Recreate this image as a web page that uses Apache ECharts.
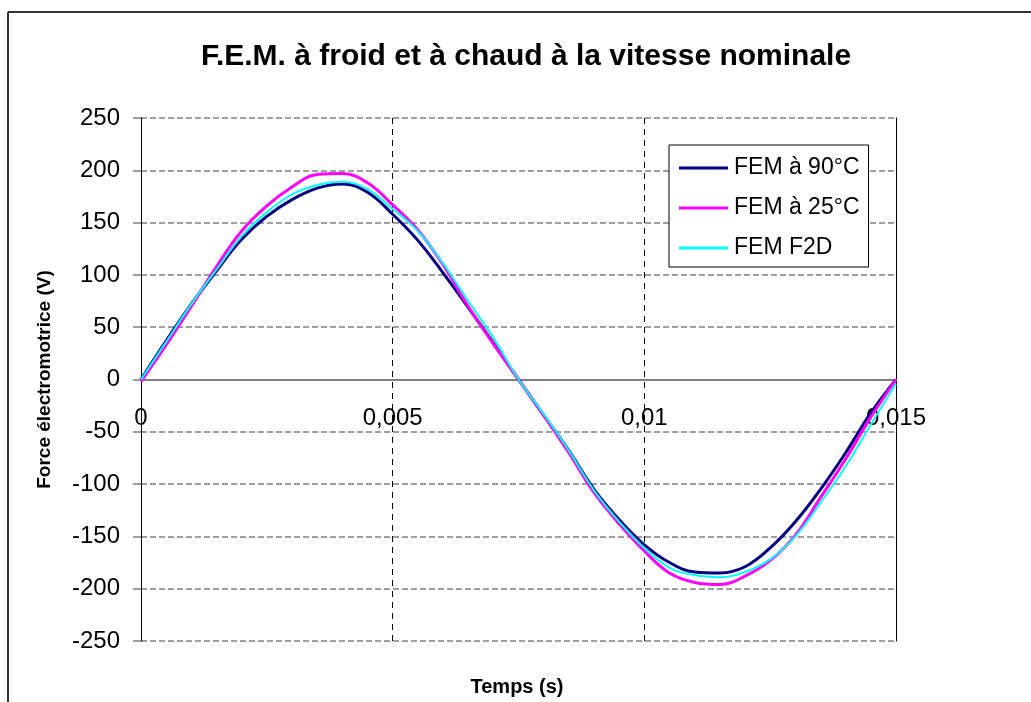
<!DOCTYPE html>
<html>
<head>
<meta charset="utf-8">
<script src="https://cdn.jsdelivr.net/npm/echarts@6/dist/echarts.min.js"></script>
<style>
  html, body { margin: 0; padding: 0; background: #fff; }
  #chart { width: 1031px; height: 702px; }
</style>
</head>
<body>
<div id="chart"></div>
<script>
// Time samples (s), one every 0.5 ms over one electrical period
const times = [0, 0.0005, 0.001, 0.0015, 0.002, 0.0025, 0.003, 0.0035, 0.004, 0.0045,
  0.005, 0.0055, 0.006, 0.0065, 0.007, 0.0075, 0.008, 0.0085, 0.009, 0.0095,
  0.01, 0.0105, 0.011, 0.0115, 0.012, 0.0125, 0.013, 0.0135, 0.014, 0.0145, 0.015];

// Measured EMF, hot machine (V)
const fem90 = [0, 37, 72, 104, 134, 156, 172, 183, 187, 179,
  158, 133, 102, 69, 35, 0, -34, -68, -105, -134,
  -158, -175, -184, -185, -179, -161, -136, -105, -70, -32, 0];

// Measured EMF, cold machine (V)
const fem25 = [-2, 33, 70, 108, 142, 166, 184, 196, 197, 188,
  167, 143, 110, 70, 34, 0, -34, -70, -108, -138,
  -164, -185, -194, -196, -188, -173, -149, -113, -76, -36, 0];

// EMF computed with Flux2D (V)
const femF2D = [0, 36, 72, 105, 137, 160, 177, 186, 189, 182,
  163, 142, 111, 75, 40, 0, -33, -68, -106, -136,
  -161, -180, -187, -189, -184, -172, -150, -118, -83, -43, -4];

const seriesNames = ['FEM à 90°C', 'FEM à 25°C', 'FEM F2D'];
const xTickLabels = ['0', '0,005', '0,01', '0,015'];
const chartTitle = 'F.E.M. à froid et à chaud à la vitesse nominale';
const yTitle = 'Force électromotrice (V)';
const xTitle = 'Temps (s)';

const pairs = vals => times.map((t, i) => [t, vals[i]]);
const font = '"Liberation Sans", Arial, sans-serif';

// Plot box and the value-axis range, used to put the time axis on V = 0
const gridTop = 118, gridBottom = 61, chartH = 702;
const yMin = -250, yMax = 250;
const plotH = chartH - gridTop - gridBottom;
const zeroOffset = -plotH * (0 - yMin) / (yMax - yMin);

const chart = echarts.init(document.getElementById('chart'), null, { renderer: 'canvas' });

chart.setOption({
  animation: false,
  backgroundColor: '#ffffff',
  textStyle: { fontFamily: font },
  grid: { left: 141, right: 135, top: gridTop, bottom: gridBottom, containLabel: false },
  legend: {
    orient: 'vertical',
    left: 669,
    top: 145,
    backgroundColor: '#ffffff',
    borderColor: '#000000',
    borderWidth: 1,
    borderRadius: 0,
    padding: [11, 9, 7, 10],
    itemWidth: 49,
    itemHeight: 3,
    itemGap: 16,
    icon: 'rect',
    textStyle: { fontFamily: font, fontSize: 23, color: '#000', lineHeight: 24, padding: [0, 0, 0, 1] },
    data: seriesNames
  },
  xAxis: {
    type: 'value',
    min: 0,
    max: 0.015,
    interval: 0.005,
    position: 'bottom',
    offset: zeroOffset,
    axisLine: { onZero: false, lineStyle: { color: '#808080', width: 2 } },
    axisTick: { show: false },
    axisLabel: {
      color: '#000',
      fontSize: 24,
      fontFamily: font,
      margin: 27,
      showMinLabel: true,
      showMaxLabel: true,
      formatter: (v, i) => xTickLabels[i]
    },
    splitLine: {
      show: true,
      showMinLine: false,
      showMaxLine: false,
      lineStyle: { color: '#000000', width: 1, type: [6, 5] }
    }
  },
  yAxis: [{
    type: 'value',
    min: yMin,
    max: yMax,
    interval: 50,
    name: yTitle,
    nameLocation: 'middle',
    nameGap: 87,
    nameTextStyle: { fontFamily: font, fontSize: 19, fontWeight: 'bold', color: '#000' },
    axisLine: { show: true, onZero: false, lineStyle: { color: '#000', width: 1 } },
    axisTick: { show: true, inside: false, length: 8, lineStyle: { color: '#808080', width: 1.5 } },
    axisLabel: { color: '#000', fontSize: 24, fontFamily: font, margin: 21 },
    splitLine: { show: true, lineStyle: { color: '#808080', width: 1.5, type: [6, 3] } }
  }, {
    type: 'value',
    position: 'right',
    min: yMin,
    max: yMax,
    interval: 50,
    axisLine: { show: true, onZero: false, lineStyle: { color: '#000', width: 1 } },
    axisTick: { show: false },
    axisLabel: { show: false },
    splitLine: { show: false }
  }],
  series: [
    {
      name: seriesNames[0], type: 'line', data: pairs(fem90),
      showSymbol: false, symbol: 'none', smooth: 0.4,
      lineStyle: { color: '#000080', width: 3 }, itemStyle: { color: '#000080' }
    },
    {
      name: seriesNames[1], type: 'line', data: pairs(fem25),
      showSymbol: false, symbol: 'none', smooth: 0.4,
      lineStyle: { color: '#ff00ff', width: 3 }, itemStyle: { color: '#ff00ff' }
    },
    {
      name: seriesNames[2], type: 'line', data: pairs(femF2D),
      showSymbol: false, symbol: 'none', smooth: 0.4,
      lineStyle: { color: '#00ffff', width: 2 }, itemStyle: { color: '#00ffff' }
    }
  ],
  graphic: [
    { type: 'line', shape: { x1: 8, y1: 12, x2: 1031, y2: 12 }, style: { stroke: '#333', lineWidth: 2 }, silent: true },
    { type: 'line', shape: { x1: 8, y1: 12, x2: 8, y2: 702 }, style: { stroke: '#333', lineWidth: 2 }, silent: true },
    {
      type: 'text', x: 526, y: 57,
      style: { text: chartTitle, fill: '#000', font: 'bold 30px ' + font, textAlign: 'center', textVerticalAlign: 'middle' }
    },
    {
      type: 'text', x: 517, y: 687,
      style: { text: xTitle, fill: '#000', font: 'bold 20px ' + font, textAlign: 'center', textVerticalAlign: 'middle' }
    }
  ]
});
</script>
</body>
</html>
